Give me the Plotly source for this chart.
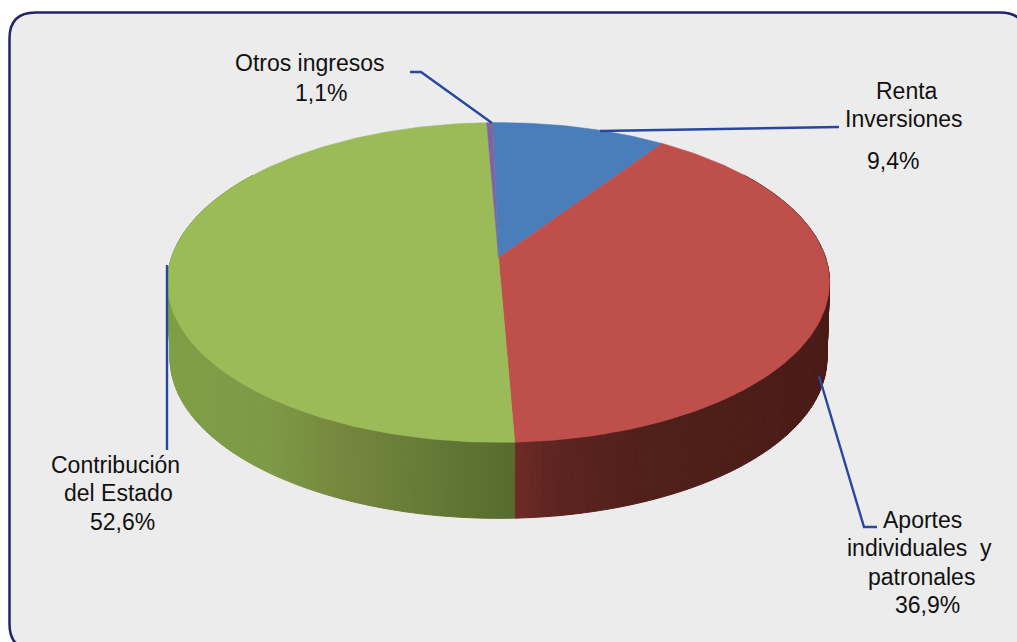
import math
import plotly.graph_objects as go

# ---- data ----
categories = ["Renta Inversiones", "Aportes individuales y patronales", "Contribución del Estado", "Otros ingresos"]
values = [9.4, 36.9, 52.6, 1.1]
top_colors = ["#4a7ebb", "#be4f4b", "#9bbb59", "#7f64a5"]

# ---- projection of the tilted disc (screen pixels, y downwards) ----
W, H = 1017, 642
CX, CY = 498.5, 257.5     # hub
A, B, K = 327.0, 156.0, 0.156
DEPTH = 76.0
START = -1.2              # degrees clockwise from "up"
# the reference's 3-D view foreshortens each slice's sweep a little differently
view_scale = [1.052, 1.078, 0.9506, 0.303]

def project(deg, drop=0.0):
    t = math.radians(deg)
    u, v = math.sin(t), -math.cos(t)
    w = 1 - K * v
    f = 1 - 0.008 * drop / DEPTH
    return CX + f * A * u / w, CY + B * v / w + drop

def frange(a, b, step=1.5):
    n = max(2, int(abs(b - a) / step) + 1)
    return [a + (b - a) * i / (n - 1) for i in range(n)]

sweeps = [v * 3.6 * s for v, s in zip(values, view_scale)]
norm = 360.0 / sum(sweeps)
sweeps = [s * norm for s in sweeps]
edges = [START]
for s in sweeps:
    edges.append(edges[-1] + s)

# wall shading, by screen x
wall_stops = {
    1: [(515, "#6e2a26"), (560, "#5c2420"), (640, "#512019"), (830, "#4a1a17")],
    2: [(165, "#7f9f45"), (270, "#7d9a47"), (330, "#77893f"), (400, "#6a7f39"), (515, "#566b2e")],
}

def hex_rgb(c):
    return tuple(int(c[i:i + 2], 16) for i in (1, 3, 5))

def shade(stops, x):
    if x <= stops[0][0]:
        return stops[0][1]
    for (x0, c0), (x1, c1) in zip(stops, stops[1:]):
        if x <= x1:
            f = (x - x0) / (x1 - x0)
            a, b = hex_rgb(c0), hex_rgb(c1)
            return "#%02x%02x%02x" % tuple(round(p + (q - p) * f) for p, q in zip(a, b))
    return stops[-1][1]

fig = go.Figure()

# walls
for idx in (1, 2):
    lo = max(edges[idx], 55)
    hi = min(edges[idx + 1], 305)
    angles = frange(lo, hi, 1.0)
    for a0, a1 in zip(angles, angles[1:]):
        p = [project(a0), project(a1), project(a1, DEPTH), project(a0, DEPTH)]
        xs = [q[0] for q in p] + [p[0][0]]
        ys = [q[1] for q in p] + [p[0][1]]
        col = shade(wall_stops[idx], (p[0][0] + p[1][0]) / 2)
        fig.add_trace(go.Scatter(x=xs, y=ys, mode="lines", fill="toself", fillcolor=col,
                                 line=dict(color=col, width=1), hoverinfo="skip", showlegend=False))

# top face
for i, name in enumerate(categories):
    pts = [project(a) for a in frange(edges[i], edges[i + 1], 1.0)]
    xs = [CX] + [q[0] for q in pts] + [CX]
    ys = [CY] + [q[1] for q in pts] + [CY]
    fig.add_trace(go.Scatter(x=xs, y=ys, mode="lines", fill="toself", fillcolor=top_colors[i],
                             line=dict(color=top_colors[i], width=0.5), name=name,
                             text=f"{name}: {values[i]:.1f}%".replace(".", ","), hoverinfo="text",
                             showlegend=False))

# leader lines
LEADER = "#2747a0"
leaders = [
    [(410, 72), (421, 72), (492, 123)],
    [(600, 131), (839, 127)],
    [(167, 265), (167, 450)],
    [(819, 376), (864, 527), (877, 527)],
]
for ln in leaders:
    fig.add_trace(go.Scatter(x=[p[0] for p in ln], y=[p[1] for p in ln], mode="lines",
                             line=dict(color=LEADER, width=2.4), hoverinfo="skip", showlegend=False))

# labels: (text, centre x, centre y)
pct = [f"{v:.1f}%".replace(".", ",") for v in values]
label_lines = [
    ("Otros ingresos", 310, 63), (pct[3], 321, 93),
    ("Renta", 907, 91), ("Inversiones", 904, 119), (pct[0], 893, 161),
    ("Contribución", 115, 465), ("del Estado", 118, 493), (pct[2], 122, 522),
    ("Aportes", 922, 520), ("individuales  y", 919, 548), ("patronales", 921, 577), (pct[1], 927, 605),
]
annotations = [dict(x=x, y=y, text=t, showarrow=False, xanchor="center", yanchor="middle",
                    font=dict(family="Liberation Sans", size=23, color="#111111"))
               for t, x, y in label_lines]

# rounded frame
L, T, R, Bt, r = 9.5, 12.5, 1026, 650, 26
frame = (f"M {L+r} {T} L {R-r} {T} Q {R} {T} {R} {T+r} L {R} {Bt-r} Q {R} {Bt} {R-r} {Bt} "
         f"L {L+r} {Bt} Q {L} {Bt} {L} {Bt-r} L {L} {T+r} Q {L} {T} {L+r} {T} Z")

fig.update_layout(
    width=W, height=H, margin=dict(l=0, r=0, t=0, b=0), autosize=False,
    paper_bgcolor="white", plot_bgcolor="white",
    xaxis=dict(range=[0, W], visible=False, fixedrange=True),
    yaxis=dict(range=[H, 0], visible=False, fixedrange=True),
    showlegend=False, annotations=annotations,
    shapes=[dict(type="path", path=frame, layer="below", fillcolor="#ececec",
                 line=dict(color="#23236b", width=2.5))],
)
fig.write_html("out.html", config={"displayModeBar": False},
               post_script="document.body.style.margin='0';document.body.style.overflow='hidden';")
